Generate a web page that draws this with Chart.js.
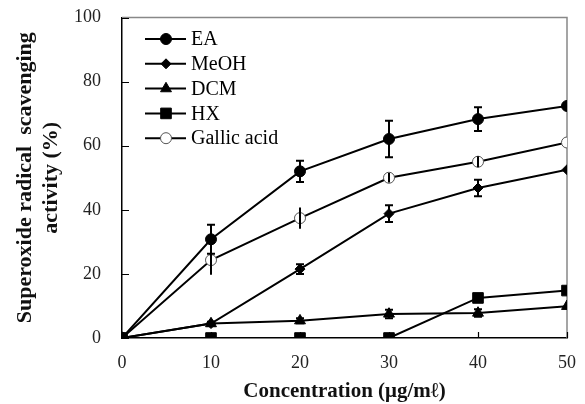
<!DOCTYPE html>
<html>
<head>
<meta charset="utf-8">
<script src="https://cdn.jsdelivr.net/npm/chart.js@4"></script>
<style>
  html, body { margin: 0; padding: 0; background: #fff; }
  #wrap { width: 585px; height: 404px; }
</style>
</head>
<body>
<div id="wrap"><canvas id="chart" width="585" height="404"></canvas></div>
<script>
// concentrations (ug/ml)
const concentrations = [0, 10, 20, 30, 40, 50];

const eaValues = [0, 30.8, 52.0, 62.1, 68.3, 72.4];
const eaErrors = [0, 4.5, 3.3, 5.7, 3.7, 0];

const meohValues = [0, 4.5, 21.5, 38.8, 46.8, 52.5];
const meohErrors = [0, 0.5, 1.5, 2.6, 2.6, 0];

const dcmValues = [0, 4.5, 5.4, 7.5, 7.8, 9.9];
const dcmErrors = [0, 0.6, 0.8, 1.3, 1.2, 0];

const hxValues = [0, 0, 0, 0, 12.5, 14.8];
const hxErrors = [0, 0, 0, 0, 0, 0];

const gallicValues = [0, 24.3, 37.4, 50.0, 55.0, 61.0];
const gallicErrors = [0, 4.6, 3.3, 1.5, 1.7, 0];

const yTicks = [0, 20, 40, 60, 80, 100];
const serif = "'Liberation Serif', 'Times New Roman', serif";

function series(label, values, errors, style, extra) {
  return Object.assign({
    label: label,
    data: concentrations.map((x, i) => ({ x: x, y: values[i] })),
    errors: errors,
    borderColor: '#000',
    borderWidth: 2,
    pointBorderColor: '#000',
    pointBorderWidth: 1,
    pointBackgroundColor: '#000',
    pointStyle: style,
    pointRadius: 5.5,
    capHalf: 4,
    tension: 0
  }, extra || {});
}

const datasets = [
  series('EA', eaValues, eaErrors, 'circle', { pointRadius: 5.5 }),
  series('MeOH', meohValues, meohErrors, 'rectRot', { pointRadius: 5 }),
  series('DCM', dcmValues, dcmErrors, 'triangle', { pointRadius: 6.3 }),
  series('HX', hxValues, hxErrors, 'rect', { pointRadius: 7.5 }),
  series('Gallic acid', gallicValues, gallicErrors, 'circle', {
    pointRadius: 5.5, pointBackgroundColor: '#fff', pointBorderColor: '#555', capHalf: 0
  })
];

// vertical error bars, drawn through the scales
const errorBars = {
  id: 'errorBars',
  afterDatasetsDraw(chart) {
    const ctx = chart.ctx;
    const y = chart.scales.y;
    ctx.save();
    ctx.strokeStyle = '#000';
    ctx.lineWidth = 2;
    chart.data.datasets.forEach((ds, di) => {
      const meta = chart.getDatasetMeta(di);
      meta.data.forEach((pt, i) => {
        const e = ds.errors[i];
        if (!e) return;
        const v = ds.data[i].y;
        const top = y.getPixelForValue(v + e);
        const bot = y.getPixelForValue(v - e);
        ctx.beginPath();
        ctx.moveTo(pt.x, top);
        ctx.lineTo(pt.x, bot);
        if (ds.capHalf) {
          ctx.moveTo(pt.x - ds.capHalf, top);
          ctx.lineTo(pt.x + ds.capHalf, top);
          ctx.moveTo(pt.x - ds.capHalf, bot);
          ctx.lineTo(pt.x + ds.capHalf, bot);
        }
        ctx.stroke();
      });
    });
    ctx.restore();
  }
};

// gray top/right frame and inward tick marks
const frame = {
  id: 'frame',
  beforeDatasetsDraw(chart) {
    const { ctx, chartArea: a, scales } = chart;
    ctx.save();
    ctx.strokeStyle = '#888';
    ctx.lineWidth = 1.5;
    ctx.beginPath();
    ctx.moveTo(a.left, a.top);
    ctx.lineTo(a.right, a.top);
    ctx.lineTo(a.right, a.bottom);
    ctx.stroke();
    ctx.strokeStyle = '#000';
    ctx.lineWidth = 1.2;
    ctx.beginPath();
    scales.x.ticks.forEach((t, i) => {
      const px = Math.round(scales.x.getPixelForTick(i)) + 0.5;
      ctx.moveTo(px, a.bottom);
      ctx.lineTo(px, a.bottom - 6);
    });
    scales.y.ticks.forEach((t, i) => {
      const py = Math.round(scales.y.getPixelForTick(i)) + 0.5;
      ctx.moveTo(a.left, py);
      ctx.lineTo(a.left + 7, py);
    });
    ctx.stroke();
    ctx.restore();
  }
};

// legend inside the plot: line sample with marker, then label
const insideLegend = {
  id: 'insideLegend',
  afterDraw(chart) {
    const ctx = chart.ctx;
    ctx.save();
    ctx.font = '20px ' + serif;
    ctx.textBaseline = 'middle';
    ctx.fillStyle = '#000';
    chart.data.datasets.forEach((ds, i) => {
      const ly = 39 + i * 24.8;
      ctx.strokeStyle = '#000';
      ctx.lineWidth = 2;
      ctx.beginPath();
      ctx.moveTo(145, ly);
      ctx.lineTo(186, ly);
      ctx.stroke();
      ctx.fillStyle = ds.pointBackgroundColor;
      ctx.strokeStyle = ds.pointBorderColor;
      ctx.lineWidth = 1;
      Chart.helpers.drawPoint(ctx, { pointStyle: ds.pointStyle, radius: ds.pointRadius, borderWidth: 1, rotation: 0 }, 166, ly);
      ctx.fillStyle = '#000';
      ctx.fillText(ds.label, 191, ly + 1);
    });
    ctx.restore();
  }
};

new Chart(document.getElementById('chart'), {
  type: 'line',
  data: { datasets: datasets },
  plugins: [frame, errorBars, insideLegend],
  options: {
    responsive: false,
    animation: false,
    layout: { padding: { top: 17.5, right: 18, left: 0, bottom: 0 } },
    plugins: { legend: { display: false }, tooltip: { enabled: false } },
    scales: {
      x: {
        type: 'linear',
        min: 0,
        max: 50,
        afterBuildTicks(scale) {
          scale.ticks = concentrations.map(v => ({ value: v }));
        },
        afterFit(scale) {
          scale.height = 66;
          scale.paddingLeft = 0;
          scale.paddingRight = 0;
        },
        grid: { display: false, drawTicks: false },
        border: { color: '#000', width: 1.5 },
        ticks: { padding: 14, color: '#222', font: { family: serif, size: 18 } },
        title: {
          display: true,
          text: 'Concentration (\u03bcg/m\u2113)',
          color: '#111',
          font: { family: serif, size: 21, weight: 'bold' },
          padding: { top: 0, bottom: 0 }
        }
      },
      y: {
        min: 0,
        max: 100,
        afterBuildTicks(scale) {
          scale.ticks = yTicks.map(v => ({ value: v }));
        },
        afterFit(scale) {
          scale.width = 122;
          scale.paddingTop = 0;
          scale.paddingBottom = 0;
        },
        grid: { display: false, drawTicks: false },
        border: { color: '#000', width: 1.5 },
        ticks: { padding: 21, color: '#222', font: { family: serif, size: 18 } },
        title: {
          display: true,
          text: ['Superoxide radical  scavenging', 'activity (%)'],
          color: '#111',
          font: { family: serif, size: 22, weight: 'bold', lineHeight: 1.2 },
          padding: { top: 12, bottom: 0 }
        }
      }
    }
  }
});
</script>
</body>
</html>
